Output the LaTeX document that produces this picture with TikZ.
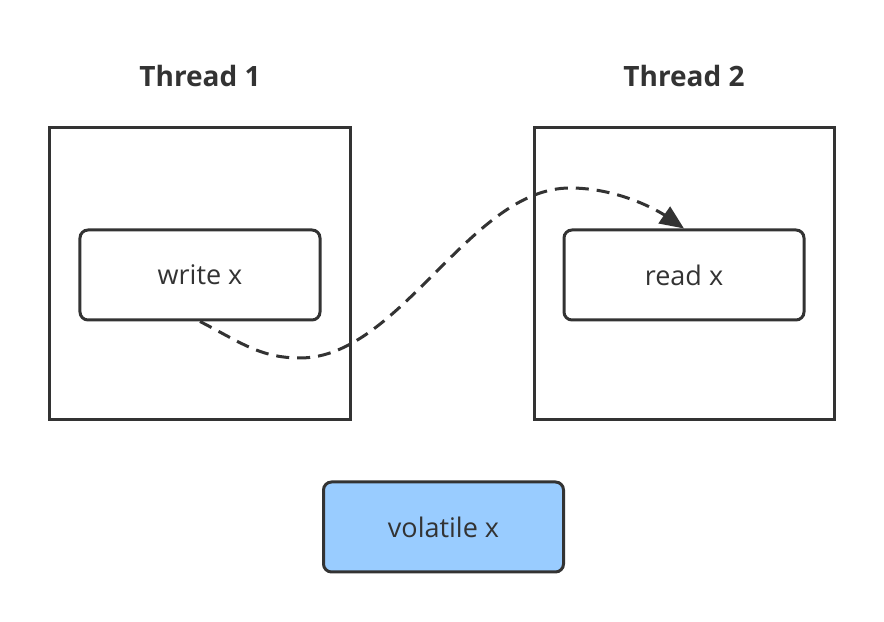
\documentclass[tikz,border=0pt]{standalone}
\usepackage{fontspec}
\setmainfont{Open Sans}
\usetikzlibrary{arrows.meta}
\definecolor{ink}{HTML}{333333}
\definecolor{vblue}{HTML}{99CCFF}
\begin{document}
\begin{tikzpicture}[x=1bp,y=1bp,
  frame/.style={draw=ink,line width=3bp,minimum width=300bp,minimum height=292bp,inner sep=0pt},
  opbox/.style={draw=ink,line width=3bp,rounded corners=8bp,minimum width=240bp,minimum height=90bp,inner sep=0pt,font=\fontsize{27bp}{30bp}\selectfont,text=ink},
  title/.style={font=\fontsize{28bp}{32bp}\selectfont\bfseries,text=ink}]
\useasboundingbox (0,0) rectangle (884,622);
\node[frame] (t1) at (200,348) {};
\node[frame] (t2) at (684,348) {};
\node[title] (l1) at (200,546) {Thread 1};
\node[title] (l2) at (684,546) {Thread 2};
\node[opbox] (w) at (200,347) {write x};
\node[opbox] (r) at (684,347) {read x};
\node[opbox,fill=vblue] (v) at (443.5,95) {volatile x};
\coordinate (m1) at (300,264);
\coordinate (m2) at (570,434);
\draw[ink,line width=3bp,dash pattern=on 13bp off 8bp,-{Triangle[length=24bp,width=20bp]}]
  (w.south) .. controls (240,280) and (260,264) .. (m1)
  .. controls (400,264) and (470,434) .. (m2)
  .. controls (620,434) and (660,410) .. (r.north);
\end{tikzpicture}
\end{document}
